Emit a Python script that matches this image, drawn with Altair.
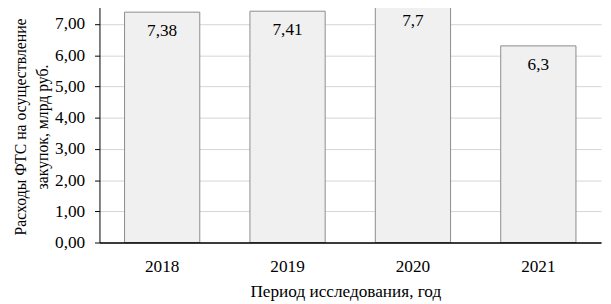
import altair as alt
import pandas as pd

years = ["2018", "2019", "2020", "2021"]
values = [7.38, 7.41, 7.7, 6.3]
labels = ["7,38", "7,41", "7,7", "6,3"]
y_ticks = [0, 1, 2, 3, 4, 5, 6, 7]
x_title = "Период исследования, год"
y_title = ["Расходы ФТС на осуществление", "закупок, млрд руб."]

df = pd.DataFrame({"year": years, "value": values, "label": labels})

FONT = "Liberation Serif, Times New Roman, serif"
FS = 17.5

x = alt.X(
    "year:N",
    title=x_title,
    sort=years,
    scale=alt.Scale(paddingInner=0.4, paddingOuter=0.2),
    axis=alt.Axis(
        labelAngle=0, ticks=False, grid=False,
        domainColor="#000000", domainWidth=1.5,
        labelFont=FONT, labelFontSize=FS, labelColor="#000000", labelPadding=15,
        titleFont=FONT, titleFontSize=FS, titleFontWeight="normal", titleColor="#000000",
        titleX=250, titleY=55, titleBaseline="alphabetic", titleAlign="center",
        zindex=1,
    ),
)

y = alt.Y(
    "value:Q",
    title=y_title,
    scale=alt.Scale(domain=[0, 7.75], nice=False, zero=True),
    axis=alt.Axis(
        values=y_ticks,
        labelExpr="replace(format(datum.value, '.2f'), '.', ',')",
        labelOverlap=False, labelBound=False, labelFlush=False,
        grid=True, gridColor="#d4d4d4", gridWidth=1,
        domainColor="#000000", domainWidth=1,
        tickColor="#000000", tickSize=5,
        labelFont=FONT, labelFontSize=FS, labelColor="#000000", labelPadding=10,
        titleFont=FONT, titleFontSize=16, titleFontWeight="normal", titleColor="#000000",
        titleAngle=270, titleAlign="center", titleBaseline="alphabetic",
        titleX=-75, titleY=128, titleLineHeight=22,
    ),
)

bars = alt.Chart(df).mark_bar(fill="#f0f0f0", stroke="#8c8c8c", strokeWidth=1).encode(x=x, y=y)
text = alt.Chart(df).mark_text(
    baseline="alphabetic", align="center", dy=24.5, font=FONT, fontSize=FS, color="#000000"
).encode(x=x, y=y, text="label:N")

chart = (
    alt.layer(bars, text)
    .properties(
        width=510,
        height=246,
        autosize=alt.AutoSizeParams(type="none"),
        padding={"left": 93, "top": -10, "right": 2, "bottom": 58},
        background="#ffffff",
    )
    .configure_view(stroke=None)
    .configure_axis(labelFont=FONT, titleFont=FONT)
    .configure_text(font=FONT)
)

chart.save("out.html", embed_options={"renderer": "svg", "actions": False})
